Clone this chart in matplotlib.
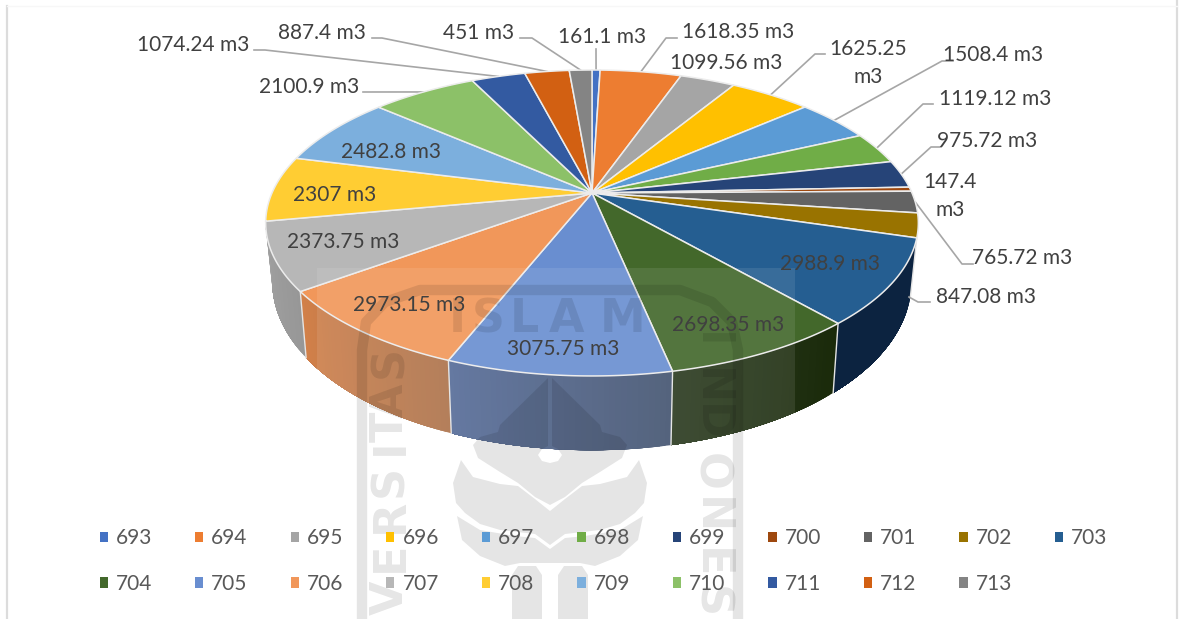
import numpy as np
import matplotlib
matplotlib.use("Agg")
import matplotlib.pyplot as plt
from matplotlib.patches import Polygon, Rectangle, Patch
from matplotlib.colors import to_rgb

# ---------- data ----------
categories = ["693","694","695","696","697","698","699","700","701","702","703",
              "704","705","706","707","708","709","710","711","712","713"]
volumes = [161.1,1618.35,1099.56,1625.25,1508.4,1119.12,975.72,147.4,765.72,847.08,2988.9,
           2698.35,3075.75,2973.15,2373.75,2307,2482.8,2100.9,1074.24,887.4,451]
label_texts = ["161.1 m3","1618.35 m3","1099.56 m3","1625.25\nm3","1508.4 m3","1119.12 m3",
               "975.72 m3","147.4\nm3","765.72 m3","847.08 m3","2988.9 m3","2698.35 m3",
               "3075.75 m3","2973.15 m3","2373.75 m3","2307 m3","2482.8 m3","2100.9 m3",
               "1074.24 m3","887.4 m3","451 m3"]

# ---------- styles and layout ----------
colors = ["#4472C4","#ED7D31","#A5A5A5","#FFC000","#5B9BD5","#70AD47","#264478","#9E480E",
          "#636363","#997300","#255E91","#43682B","#698ED0","#F1975A","#B7B7B7","#FFCD33",
          "#7CAFDD","#8CC168","#335AA1","#D26012","#848484"]
wall_colors = {10: ("#0c2340", "#0c2340"), 11: ("#1a2a0a", "#2b3b20"),
               12: ("#445470", "#566c99"), 13: ("#ad734b", "#d28049"),
               14: ("#979797", "#a2a2a2")}
label_xy = [(602,37),(738,32),(726,63),(868,63),(993,55),(995,99),(987,141),(950,196),
            (1022,258),(986,297),(830,264),(728,325),(563,349),(409,305),(343,242),(335,195),
            (391,152),(309,87),(193,45),(322,33),(479,33)]
leader_paths = {0: [(596,49)], 1: [(666,38),(677,38)], 3: [(815,54),(825,54)],
                4: [(942,61),(953,61)], 5: [(923,104),(933,104)], 6: [(931,147),(941,147)],
                8: [(962,264),(973,264)], 17: [(363,92)],
                18: [(265,50),(254,50)], 19: [(382,38),(372,38)], 20: [(532,38),(520,38)]}
wall_leader = [(909,297),(918,302),(930,302)]
CX, CY, RX, RY, K = 592.0, 193.0, 320.0, 147.1, 0.196
FONT = "Lato"
MARK_FONT = "DejaVu Sans"
TXT = "#404040"
INK = (0, 0, 0, 0.10)

fig = plt.figure(figsize=(11.84, 6.19), dpi=100, facecolor="white")
ax = fig.add_axes([0, 0, 1, 1])
ax.set_xlim(0, 1184)
ax.set_ylim(619, 0)
ax.axis("off")

def rim(t):
    u, v = np.sin(t), np.cos(t)
    w = 1 + K * v
    return CX + RX * u / w, CY - RY * v / w

def floor(t):
    x, y = rim(t)
    v = np.cos(t)
    return CX + 0.98 * (x - CX), CY + 0.98 * (y - CY) + (54 - 24 * v)

fractions = np.asarray(volumes) / np.sum(volumes)
edges = np.concatenate([[0], np.cumsum(fractions)]) * 2 * np.pi

# side walls with a left/right gradient (overlapping strips, no seams)
for i, (c_start, c_end) in wall_colors.items():
    a0, a1 = edges[i], edges[i + 1]
    ts = np.linspace(a0, a1, 41)
    c0, c1 = np.array(to_rgb(c_start)), np.array(to_rgb(c_end))
    for j in range(40):
        col = c0 + (c1 - c0) * (j + 0.5) / 40
        tt = np.linspace(ts[j], a1, 8)
        xt, yt = rim(tt)
        xb, yb = floor(tt)
        ax.add_patch(Polygon(np.c_[np.r_[xt, xb[::-1]], np.r_[yt, yb[::-1]]],
                             closed=True, fc=col, ec="none", zorder=2))
for i in wall_colors:
    a0 = edges[i]
    xt, yt = rim(a0)
    xb, yb = floor(a0)
    ax.plot([xt, xb], [yt, yb], color="#e4e4e4", lw=1.0, zorder=3)

# top face
for i, col in enumerate(colors):
    ts = np.linspace(edges[i], edges[i + 1], 60)
    xs, ys = rim(ts)
    pts = np.c_[np.r_[CX, xs], np.r_[CY, ys]]
    ax.add_patch(Polygon(pts, closed=True, fc=col, ec="#ececec", lw=1.1, zorder=4))

# leader lines
for i, pts in leader_paths.items():
    start = rim((edges[i] + edges[i + 1]) / 2)
    xs = [start[0]] + [p[0] for p in pts]
    ys = [start[1]] + [p[1] for p in pts]
    ax.plot(xs, ys, color="#a6a6a6", lw=1.2, zorder=3.5, solid_joinstyle="round")
ax.plot([p[0] for p in wall_leader], [p[1] for p in wall_leader], color="#a6a6a6", lw=1.2, zorder=3.5)

# scanned-page watermark
ax.add_patch(Rectangle((317, 268), 478, 190, fc=(1, 1, 1, 0.09), ec="none", zorder=5))
arch = [(362,625),(362,350),(366,322),(385,302),(420,290),(680,290),(712,302),(732,322),(738,350),(738,625)]
ax.plot([p[0] for p in arch], [p[1] for p in arch], color="black", alpha=0.10, lw=7.5,
        zorder=5.1, solid_joinstyle="round", solid_capstyle="butt")
left_half = [
    [(548,378),(500,425),(498,432),(480,437),(473,445),(478,458),(500,472),(518,483),(535,497),(550,505),
     (550,463),(542,461),(538,455),(542,449),(548,446)],
    [(461,460),(453,483),(456,503),(465,513),(480,524),(500,530),(535,534),(550,545),(550,511),(535,499),
     (518,486),(500,484),(473,477)],
    [(457,516),(480,530),(515,536),(535,538),(550,549),(550,563),(520,563),(505,566),(480,556),(462,540)],
    [(512,619),(512,575),(518,566),(536,566),(542,575),(542,619)],
]
for poly in left_half:
    ax.add_patch(Polygon(poly, closed=True, fc=INK, ec="none", zorder=5.1))
    mirrored = [(1100 - x, y) for x, y in poly]
    ax.add_patch(Polygon(mirrored, closed=True, fc=INK, ec="none", zorder=5.1))
for ch, x in zip("ISLAM", [457, 488, 524, 567, 623]):
    ax.text(x, 320, ch, color=INK, fontsize=33, family=MARK_FONT, weight="bold",
            ha="center", va="center", zorder=5.1)
for ch, y in zip("VERSITAS", [598, 557, 516, 481, 447, 427, 401, 362]):
    ax.text(390, y, ch, color=INK, fontsize=32, family=MARK_FONT, weight="bold", rotation=90,
            ha="center", va="center", zorder=5.1)
for ch, y in zip("INDONES", [340, 387, 422, 472, 516, 563, 602]):
    ax.text(710, y, ch, color=INK, fontsize=32, family=MARK_FONT, weight="bold", rotation=-90,
            ha="center", va="center", zorder=5.1)

# page edge marks
ax.plot([7, 7], [6, 619], color="#dcdcdc", lw=1.6, zorder=1)
ax.plot([1177, 1177], [0, 619], color="#dcdcdc", lw=1.6, zorder=1)
ax.plot([7, 1177], [6, 6], color="#f7f7f7", lw=1.0, zorder=1)

# value labels
for txt, (x, y) in zip(label_texts, label_xy):
    ax.text(x, y, txt, color=TXT, fontsize=15, family=FONT, ha="center", va="center",
            linespacing=1.5, zorder=6)

# legend: columns are filled top-down, so pair the two rows
order = [i + k for i in range(11) for k in ((0, 11) if i < 10 else (0,))]
handles = [Patch(fc=colors[i], ec="none", label=categories[i]) for i in order]
leg = ax.legend(handles=handles, ncol=11, frameon=False, loc="upper left",
                bbox_to_anchor=(99.5 / 1184, 1 - 528.5 / 619), prop={"family": FONT, "size": 15},
                labelcolor="#595959", handlelength=0.4, handleheight=0.4, handletextpad=0.38,
                columnspacing=2.06, labelspacing=1.22, borderpad=0, borderaxespad=0)
leg.set_zorder(6)

fig.savefig("out.png", dpi=100, facecolor="white")
